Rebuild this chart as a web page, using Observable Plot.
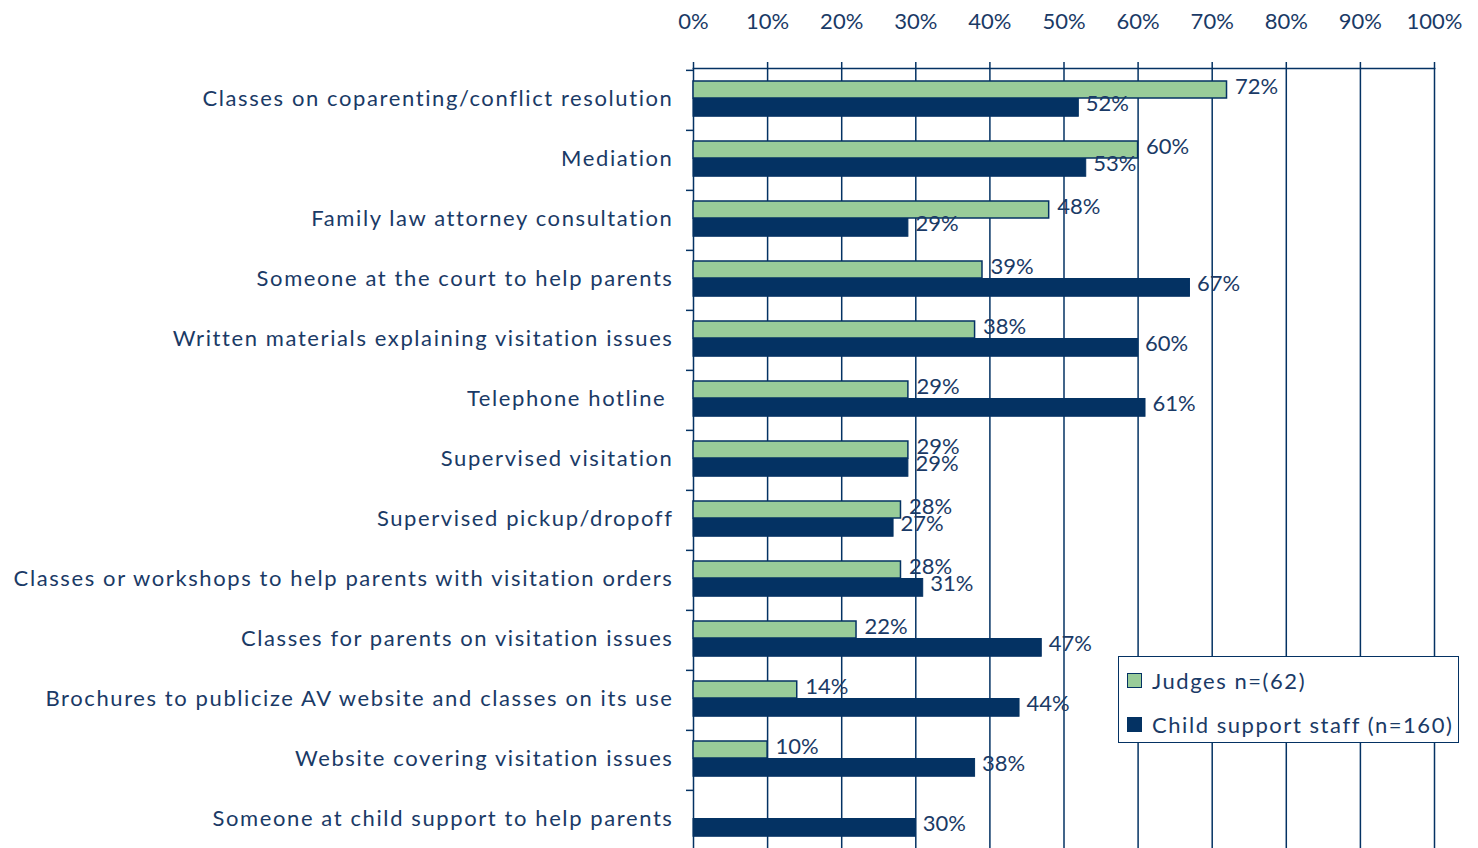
<!DOCTYPE html>
<html>
<head>
<meta charset="utf-8">
<script src="https://cdn.jsdelivr.net/npm/d3@7"></script>
<script src="https://cdn.jsdelivr.net/npm/@observablehq/plot@0.6"></script>
<style>
  html, body { margin: 0; padding: 0; background: white; overflow: hidden; }
  #wrap { position: relative; width: 1478px; height: 848px; }
  #wrap svg g[aria-label="y-axis tick label"] text { letter-spacing: 1.6px; }
  #legend {
    position: absolute; left: 1118px; top: 656px; width: 339px; height: 85px;
    border: 1.5px solid #043263; background: white;
    font-family: Lato, sans-serif; font-size: 22px; color: #1a3a66; letter-spacing: 1.55px;
  }
  .item { position: absolute; left: 8px; display: flex; align-items: center; white-space: nowrap; }
  .sw { width: 13px; height: 13px; border: 1.5px solid #043263; margin-right: 10px; }
</style>
</head>
<body>
<div id="wrap"></div>
<script>
const categories = [
  "Classes on coparenting/conflict resolution",
  "Mediation",
  "Family law attorney consultation",
  "Someone at the court to help parents",
  "Written materials explaining visitation issues",
  "Telephone hotline\u00a0",
  "Supervised visitation",
  "Supervised pickup/dropoff",
  "Classes or workshops to help parents with visitation orders",
  "Classes for parents on visitation issues",
  "Brochures to publicize AV website and classes on its use",
  "Website covering visitation issues",
  "Someone at child support to help parents"
];
const judgesValues = [72, 60, 48, 39, 38, 29, 29, 28, 28, 22, 14, 10, null];
const staffValues  = [52, 53, 29, 67, 60, 61, 29, 27, 31, 47, 44, 38, 30];
const seriesNames = ["Judges n=(62)", "Child support staff (n=160)"];
const xTicks = [0, 10, 20, 30, 40, 50, 60, 70, 80, 90, 100];

const navy = "#043263";
const green = "#99cc99";
const textColor = "#1a3a66";

const judgesData = categories.map((c, i) => ({cat: c, value: judgesValues[i]})).filter(d => d.value != null);
const staffData = categories.map((c, i) => ({cat: c, value: staffValues[i]})).filter(d => d.value != null);

const chart = Plot.plot({
  width: 1478,
  height: 851,
  marginLeft: 693,
  marginRight: 44,
  marginTop: 68,
  marginBottom: 0,
  style: {fontFamily: "Lato, sans-serif", fontSize: "22px", color: textColor, background: "white", overflow: "visible"},
  x: {domain: [0, 100], axis: null, label: null},
  y: {domain: categories, padding: 0, axis: null, label: null},
  marks: [
    Plot.gridX(xTicks, {stroke: navy, strokeOpacity: 1, strokeWidth: 1.5}),
    Plot.axisX({anchor: "top", ticks: xTicks, tickFormat: d => d + "%", tickSize: 7, tickPadding: 33, stroke: navy, strokeWidth: 1.5, fontSize: 22, label: null}),
    Plot.frame({anchor: "top", stroke: navy, strokeWidth: 1.5}),
    Plot.axisY({tickSize: 7, tickFormat: () => "", dy: -30.125, stroke: navy, strokeWidth: 1.5, label: null}),
    Plot.axisY({tickSize: 0, tickPadding: 20, fontSize: 22, dy: -2, label: null}),
    Plot.barX(judgesData, {x: "value", y: "cat", fill: green, stroke: navy, strokeWidth: 1.5, insetTop: 11, insetBottom: 32}),
    Plot.barX(staffData, {x: "value", y: "cat", fill: navy, stroke: navy, strokeWidth: 1, insetTop: 28.5, insetBottom: 13.75}),
    Plot.text(judgesData, {x: "value", y: "cat", text: d => d.value + "%", textAnchor: "start", dx: 8, dy: -14, fill: textColor, fontSize: 22}),
    Plot.text(staffData, {x: "value", y: "cat", text: d => d.value + "%", textAnchor: "start", dx: 7, dy: 3, fill: textColor, fontSize: 22})
  ]
});

const wrap = document.getElementById("wrap");
wrap.appendChild(chart);

const legend = document.createElement("div");
legend.id = "legend";
const colors = [green, navy];
seriesNames.forEach((name, i) => {
  const item = document.createElement("div");
  item.className = "item";
  item.style.top = (i === 0 ? 10 : 54) + "px";
  const sw = document.createElement("div");
  sw.className = "sw";
  sw.style.background = colors[i];
  const label = document.createElement("span");
  label.textContent = name;
  item.appendChild(sw);
  item.appendChild(label);
  legend.appendChild(item);
});
wrap.appendChild(legend);
</script>
</body>
</html>
